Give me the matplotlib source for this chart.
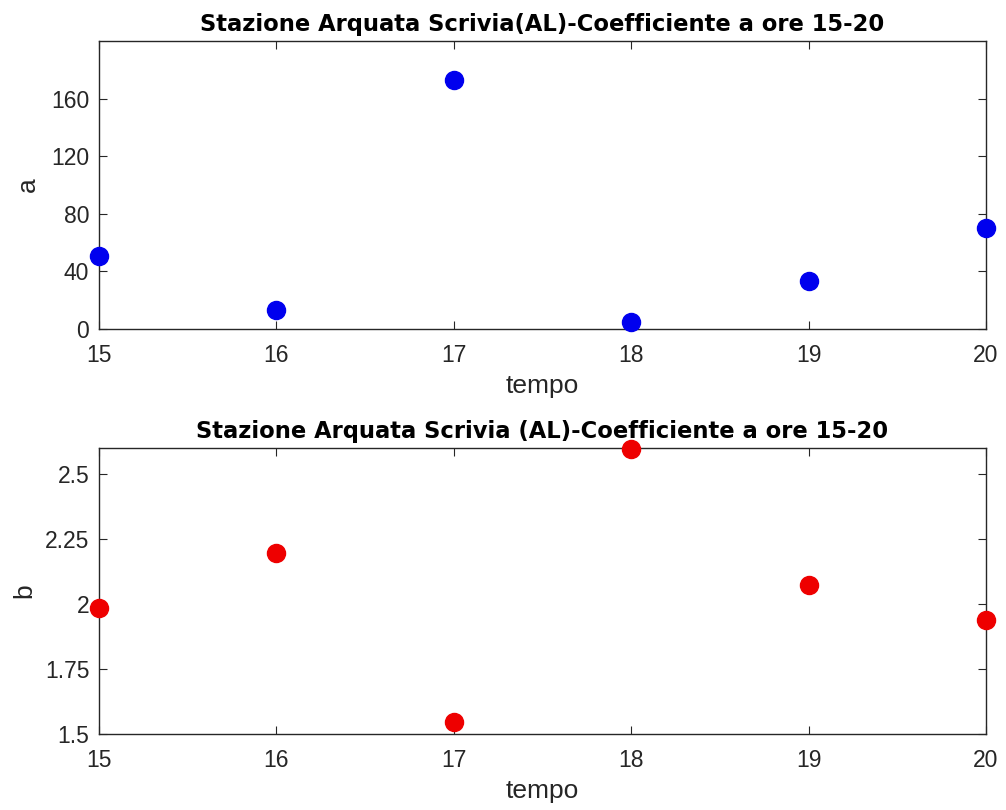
import matplotlib
matplotlib.use("Agg")
import matplotlib.pyplot as plt

plt.rcParams['font.family'] = ['Liberation Sans', 'DejaVu Sans']

hours = [15, 16, 17, 18, 19, 20]
a_vals = [50.8, 13, 173, 5, 33.4, 70]
b_vals = [1.983, 2.198, 1.545, 2.597, 2.075, 1.94]
a_ticks = [0, 40, 80, 120, 160]
b_ticks = [1.5, 1.75, 2, 2.25, 2.5]
b_ticklabels = ['1.5', '1.75', '2', '2.25', '2.5']
title_a = 'Stazione Arquata Scrivia(AL)-Coefficiente a ore 15-20'
title_b = 'Stazione Arquata Scrivia (AL)-Coefficiente a ore 15-20'

axc = '#262626'
fig = plt.figure(figsize=(10.06, 8.10), dpi=100)
ax1 = fig.add_axes([0.0984, 0.5938, 0.8817, 0.3556])
ax2 = fig.add_axes([0.0984, 0.0938, 0.8817, 0.3531])

def style(ax):
    for s in ax.spines.values():
        s.set_color(axc)
        s.set_linewidth(1.0)
    ax.tick_params(direction='in', top=True, right=True, length=6, width=0.8,
                   colors=axc, labelsize=16.5)
    ax.tick_params(axis='x', pad=11)
    ax.tick_params(axis='y', pad=7)
    ax.set_xlim(15, 20)
    ax.set_xticks(hours)
    ax.set_xlabel('tempo', fontsize=19, color=axc, labelpad=5)

ax1.plot(hours, a_vals, 'o', color='#0000ee', markersize=13, clip_on=False, zorder=5)
style(ax1)
ax1.set_ylim(0, 200)
ax1.set_yticks(a_ticks)
ax1.set_ylabel('a', fontsize=19, color=axc, labelpad=8)
ax1.set_title(title_a, fontsize=16.3, fontweight='bold', pad=7,
              family='DejaVu Sans')

ax2.plot(hours, b_vals, 'o', color='#ee0000', markersize=13, clip_on=False, zorder=5)
style(ax2)
ax2.set_ylim(1.5, 2.6)
ax2.set_yticks(b_ticks)
ax2.set_yticklabels(b_ticklabels)
ax2.set_ylabel('b', fontsize=19, color=axc, labelpad=6)
ax2.set_title(title_b, fontsize=16.3, fontweight='bold', pad=7,
              family='DejaVu Sans')

fig.savefig('out.png', dpi=100, facecolor='white')
